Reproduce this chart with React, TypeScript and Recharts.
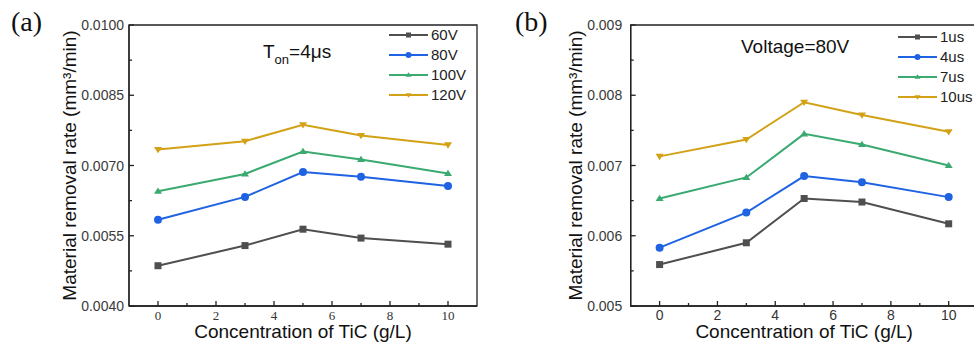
import React from 'react';
import { LineChart, Line, XAxis, YAxis, Legend, ReferenceArea } from 'recharts';

// TiC concentration (g/L)
const concentration = [0, 3, 5, 7, 10];

// (a) material removal rate at Ton = 4us, per voltage
const voltageNames = ['60V', '80V', '100V', '120V'];
const mrr60V = [0.00486, 0.00529, 0.00564, 0.00545, 0.00532];
const mrr80V = [0.00584, 0.00633, 0.00686, 0.00676, 0.00656];
const mrr100V = [0.00645, 0.00682, 0.0073, 0.00713, 0.00683];
const mrr120V = [0.00734, 0.00752, 0.00787, 0.00764, 0.00744];

// (b) material removal rate at 80V, per pulse-on time
const pulseNames = ['1us', '4us', '7us', '10us'];
const mrr1us = [0.00559, 0.0059, 0.00653, 0.00648, 0.00617];
const mrr4us = [0.00583, 0.00633, 0.00685, 0.00676, 0.00655];
const mrr7us = [0.00653, 0.00683, 0.00745, 0.0073, 0.007];
const mrr10us = [0.00713, 0.00737, 0.0079, 0.00772, 0.00748];

// axis ticks (odd x values and in-between y values are minor ticks)
const xTicks = [0, 1, 2, 3, 4, 5, 6, 7, 8, 9, 10];
const yTicksA = [0.004, 0.00475, 0.0055, 0.00625, 0.007, 0.00775, 0.0085, 0.00925, 0.01];
const yMajorA = [0.004, 0.0055, 0.007, 0.0085, 0.01];
const yTicksB = [0.005, 0.0055, 0.006, 0.0065, 0.007, 0.0075, 0.008, 0.0085, 0.009];
const yMajorB = [0.005, 0.006, 0.007, 0.008, 0.009];

const SANS = '"Liberation Sans", Arial, sans-serif';
const SERIF = '"Liberation Serif", "Times New Roman", serif';
const AXIS = '#222';
const COLORS = ['#4f4f4f', '#1f63e2', '#3aaa70', '#d3a116'];
const SHAPES = ['square', 'circle', 'up', 'down'];

const tableA = concentration.map((c, i) => ({ c, s0: mrr60V[i], s1: mrr80V[i], s2: mrr100V[i], s3: mrr120V[i] }));
const tableB = concentration.map((c, i) => ({ c, s0: mrr1us[i], s1: mrr4us[i], s2: mrr7us[i], s3: mrr10us[i] }));

function Marker({ cx, cy, shape, color, s }: any) {
  if (cx == null || cy == null) return null;
  if (shape === 'square') return <rect x={cx - s / 2} y={cy - s / 2} width={s} height={s} fill={color} />;
  if (shape === 'circle') return <circle cx={cx} cy={cy} r={s / 2 + 0.5} fill={color} />;
  const h = s * 0.9;
  const pts = shape === 'up'
    ? `${cx},${cy - h * 0.6} ${cx - s / 2 - 0.5},${cy + h * 0.4} ${cx + s / 2 + 0.5},${cy + h * 0.4}`
    : `${cx},${cy + h * 0.6} ${cx - s / 2 - 0.5},${cy - h * 0.4} ${cx + s / 2 + 0.5},${cy - h * 0.4}`;
  return <polygon points={pts} fill={color} />;
}

// inward ticks: line drawn up from the axis, label below
function XTick({ x, y, payload, serif }: any) {
  const major = payload.value % 2 === 0;
  return (
    <g>
      <line x1={x} x2={x} y1={y} y2={y - (major ? 5 : 3)} stroke={AXIS} strokeWidth={1.3} />
      {major && (
        <text x={x} y={y + 14} textAnchor="middle" fontFamily={serif ? SERIF : SANS}
          fontSize={serif ? 13 : 14} fill="#333">
          {payload.value}
        </text>
      )}
    </g>
  );
}

function YTick({ x, y, payload, major, digits, gap }: any) {
  const isMajor = major.includes(payload.value);
  return (
    <g>
      <line x1={x} x2={x + (isMajor ? 5 : 3)} y1={y} y2={y} stroke={AXIS} strokeWidth={1.3} />
      {isMajor && (
        <text x={x - gap} y={y + 5} textAnchor="end" fontFamily={SANS} fontSize={14} fill="#3a3a3a">
          {payload.value.toFixed(digits)}
        </text>
      )}
    </g>
  );
}

function SeriesLegend({ payload }: any) {
  const rows = (payload || [])
    .map((entry: any) => ({ entry, i: Number(String(entry.dataKey).slice(1)) }))
    .sort((a: any, b: any) => a.i - b.i);
  return (
    <div style={{ fontFamily: SANS, fontSize: 15, color: '#222' }}>
      {rows.map(({ entry, i }: any) => (
        <div key={entry.value} style={{ display: 'flex', alignItems: 'center', height: 20 }}>
          <svg width={39} height={20} style={{ display: 'block' }}>
            <line x1={0} x2={39} y1={10} y2={10} stroke={COLORS[i]} strokeWidth={2} />
            <Marker cx={19.5} cy={10} shape={SHAPES[i]} color={COLORS[i]} s={5} />
          </svg>
          <span style={{ marginLeft: 3, lineHeight: '20px' }}>{entry.value}</span>
        </div>
      ))}
    </div>
  );
}

function Panel(p: any) {
  const labelStyle = { fontFamily: SANS, fontSize: 19 };
  return (
    <div style={{ position: 'absolute', left: p.left, top: 0, width: p.width, height: 346 }}>
      <LineChart width={p.width} height={346} data={p.data}
        margin={{ top: 25, right: p.marginRight, bottom: 0, left: p.marginLeft }}>
        <XAxis type="number" dataKey="c" domain={[-1, 11]} ticks={xTicks} interval={0} height={40}
          tickSize={0} tickMargin={0} axisLine={{ stroke: AXIS, strokeWidth: 1.3 }}
          tick={(t: any) => <XTick {...t} serif={p.serifX} />}
          label={{ value: 'Concentration of TiC (g/L)', position: 'insideBottom', offset: 8, fill: '#111', style: labelStyle }} />
        <YAxis type="number" domain={p.yDomain} ticks={p.yTicks} interval={0} width={60}
          tickSize={0} tickMargin={0} axisLine={{ stroke: AXIS, strokeWidth: 1.3 }}
          tick={(t: any) => <YTick {...t} major={p.yMajor} digits={p.digits} gap={p.gap} />}
          label={{ value: 'Material removal rate (mm³/min)', angle: -90, position: 'insideLeft', offset: p.titleOffset, fill: '#111', style: { ...labelStyle, textAnchor: 'middle' } }} />
        <ReferenceArea x1={-1} x2={11} y1={p.yDomain[0]} y2={p.yDomain[1]} fill="none"
          stroke={AXIS} strokeWidth={1.3} />
        {p.names.map((n: string, i: number) => (
          <Line key={n} type="linear" dataKey={`s${i}`} name={n} stroke={COLORS[i]} strokeWidth={2}
            activeDot={false} isAnimationActive={false}
            dot={(d: any) => <Marker key={`${n}-${d.index}`} cx={d.cx} cy={d.cy} shape={SHAPES[i]} color={COLORS[i]} s={7} />} />
        ))}
        <Legend layout="vertical" align="center" verticalAlign="middle"
          wrapperStyle={{ left: p.legendLeft, top: p.legendTop, width: 'auto' }}
          content={(lp: any) => <SeriesLegend payload={lp.payload} />} />
      </LineChart>
    </div>
  );
}

export default function App() {
  return (
    <div style={{ position: 'absolute', left: 0, top: 0, width: 974, height: 346, overflow: 'hidden', background: '#fff' }}>
      <Panel left={0} width={490} data={tableA} names={voltageNames} marginLeft={69} marginRight={13}
        yDomain={[0.004, 0.01]} yTicks={yTicksA} yMajor={yMajorA} digits={4} gap={5} serifX
        titleOffset={0} legendLeft={389} legendTop={25} />
      <Panel left={490} width={500} data={tableB} names={pulseNames} marginLeft={80.7} marginRight={12.4}
        yDomain={[0.005, 0.009]} yTicks={yTicksB} yMajor={yMajorB} digits={3} gap={8.5} serifX={false}
        titleOffset={5} legendLeft={408} legendTop={27} />
      <svg width={974} height={346} style={{ position: 'absolute', left: 0, top: 0, pointerEvents: 'none' }}>
        <text x={11} y={31} fontFamily={SERIF} fontSize={28} fill="#111">(a)</text>
        <text x={515} y={31} fontFamily={SERIF} fontSize={28} fill="#111">(b)</text>
        <text x={263} y={58} fontFamily={SANS} fontSize={19} fill="#111">
          T<tspan fontSize={13} dy={6}>on</tspan><tspan dy={-6}>=4μs</tspan>
        </text>
        <text x={741} y={53} fontFamily={SANS} fontSize={19} fill="#111">Voltage=80V</text>
      </svg>
    </div>
  );
}
